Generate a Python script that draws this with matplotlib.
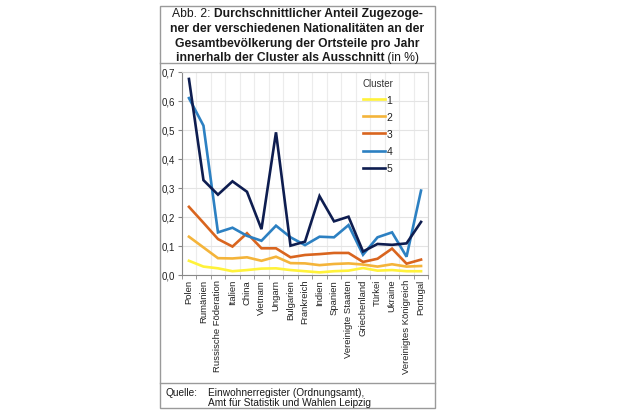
import matplotlib
matplotlib.use("Agg")
import matplotlib.pyplot as plt
from matplotlib.patches import Rectangle
from matplotlib.lines import Line2D
import matplotlib.offsetbox as ob
from matplotlib.offsetbox import TextArea, HPacker
import numpy as np

plt.rcParams['font.family'] = ['Liberation Sans', 'DejaVu Sans']

categories = ["Polen", "Rumänien", "Russische Föderation", "Italien", "China",
              "Vietnam", "Ungarn", "Bulgarien", "Frankreich", "Indien", "Spanien",
              "Vereinigte Staaten", "Griechenland", "Türkei", "Ukraine",
              "Vereinigtes Königreich", "Portugal"]

cluster1 = [0.048, 0.028, 0.022, 0.012, 0.016, 0.021, 0.022, 0.016, 0.012, 0.008,
            0.012, 0.014, 0.023, 0.014, 0.016, 0.012, 0.012]
cluster2 = [0.131, 0.094, 0.057, 0.056, 0.060, 0.048, 0.062, 0.040, 0.039, 0.033,
            0.037, 0.039, 0.035, 0.028, 0.036, 0.028, 0.030]
cluster3 = [0.234, 0.179, 0.123, 0.097, 0.143, 0.091, 0.091, 0.060, 0.068, 0.071,
            0.075, 0.075, 0.044, 0.055, 0.090, 0.038, 0.052]
cluster4 = [0.609, 0.514, 0.146, 0.162, 0.134, 0.117, 0.169, 0.129, 0.102, 0.131,
            0.129, 0.171, 0.069, 0.129, 0.146, 0.062, 0.290]
cluster5 = [0.675, 0.326, 0.276, 0.322, 0.286, 0.157, 0.491, 0.100, 0.114, 0.271,
            0.184, 0.200, 0.080, 0.106, 0.103, 0.108, 0.182]

series = [("1", cluster1, "#FFF23A"), ("2", cluster2, "#F4B43A"),
          ("3", cluster3, "#D9651F"), ("4", cluster4, "#2C80C2"),
          ("5", cluster5, "#0E1D50")]

yticks = [0.0, 0.1, 0.2, 0.3, 0.4, 0.5, 0.6, 0.7]
ytick_labels = ["0,0", "0,1", "0,2", "0,3", "0,4", "0,5", "0,6", "0,7"]

W, H = 620, 414
fig = plt.figure(figsize=(W / 100, H / 100), dpi=100)

def fx(px):
    return px / W

def fy(py):
    return 1 - py / H

# Outer box and separators
box_l, box_r, box_t, box_b = 160, 435, 7, 409
fig.patches.append(Rectangle((fx(box_l), fy(box_b)), fx(box_r - box_l), (box_b - box_t) / H,
                             transform=fig.transFigure, fill=False, edgecolor="#9a9a9a", lw=1.0))
fig.lines.append(Line2D([fx(box_l), fx(box_r)], [fy(64), fy(64)], transform=fig.transFigure,
                        color="#9a9a9a", lw=1.0))
fig.lines.append(Line2D([fx(box_l), fx(box_r)], [fy(384), fy(384)], transform=fig.transFigure,
                        color="#9a9a9a", lw=1.0))

# Title
cx = fx((box_l + box_r) / 2)
tsize = 8.75

def mixed_line(parts, y):
    boxes = [TextArea(t, textprops=dict(fontsize=tsize, fontweight=w, color="#1a1a1a"))
             for t, w in parts]
    pack = HPacker(children=boxes, align="baseline", pad=0, sep=0)
    ab = ob.AnnotationBbox(pack, (cx, fy(y)), xycoords="figure fraction",
                           frameon=False, box_alignment=(0.5, 0.5), pad=0)
    fig.add_artist(ab)

mixed_line([("Abb. 2: ", "normal"), ("Durchschnittlicher Anteil Zugezoge-", "bold")], 14)
fig.text(cx, fy(29), "ner der verschiedenen Nationalitäten an der", ha="center", va="center",
         fontsize=tsize, fontweight="bold", color="#1a1a1a")
fig.text(cx, fy(44), "Gesamtbevölkerung der Ortsteile pro Jahr", ha="center", va="center",
         fontsize=tsize, fontweight="bold", color="#1a1a1a")
mixed_line([("innerhalb der Cluster als Ausschnitt", "bold"), (" (in %)", "normal")], 58)

# Axes
ax_l, ax_r, ax_t, ax_b = 181.7, 428.3, 72.7, 275.7
ax = fig.add_axes([fx(ax_l), fy(ax_b), fx(ax_r - ax_l), (ax_b - ax_t) / H])
x = np.arange(len(categories))
for name, vals, col in series:
    ax.plot(x, vals, color=col, lw=1.9, label=name, solid_joinstyle="miter")

ax.set_xlim(-0.5, len(categories) - 0.5)
ax.set_ylim(0, 0.7)
ax.set_yticks(yticks)
ax.set_yticklabels(ytick_labels, fontsize=7.0, color="#222222")
ax.set_xticks(x)
ax.set_xticklabels(categories, rotation=90, fontsize=6.8, color="#222222")
ax.tick_params(axis="x", length=0, pad=3)
ax.tick_params(axis="y", length=3, color="#888888", pad=2)
ax.set_xticks(np.arange(-0.5, len(categories), 1), minor=True)
ax.tick_params(axis="x", which="minor", length=3, color="#888888")
ax.grid(True, axis="y", which="major", color="#e4e4e4", lw=0.8)
ax.grid(True, axis="x", which="minor", color="#ececec", lw=0.8)
ax.set_axisbelow(True)
for s in ["top", "right"]:
    ax.spines[s].set_color("#d0d0d0")
    ax.spines[s].set_linewidth(0.8)
for s in ["left", "bottom"]:
    ax.spines[s].set_color("#888888")
    ax.spines[s].set_linewidth(0.8)

leg = ax.legend(title="Cluster", loc="upper left",
                bbox_to_anchor=((353 - ax_l) / (ax_r - ax_l), 1 - (69.5 - ax_t) / (ax_b - ax_t)),
                frameon=False, fontsize=7.5, title_fontsize=7,
                handlelength=2.1, handletextpad=0.15, labelspacing=0.68)
leg.get_title().set_color("#333333")
for t in leg.get_texts():
    t.set_color("#222222")

# Source
ssize = 7.3
fig.text(fx(166), fy(393), "Quelle:", ha="left", va="center", fontsize=ssize, color="#1a1a1a")
fig.text(fx(207.5), fy(393), "Einwohnerregister (Ordnungsamt),", ha="left", va="center",
         fontsize=ssize, color="#1a1a1a")
fig.text(fx(207.5), fy(403.5), "Amt für Statistik und Wahlen Leipzig", ha="left", va="center",
         fontsize=ssize, color="#1a1a1a")

fig.savefig("out.png", dpi=100)
